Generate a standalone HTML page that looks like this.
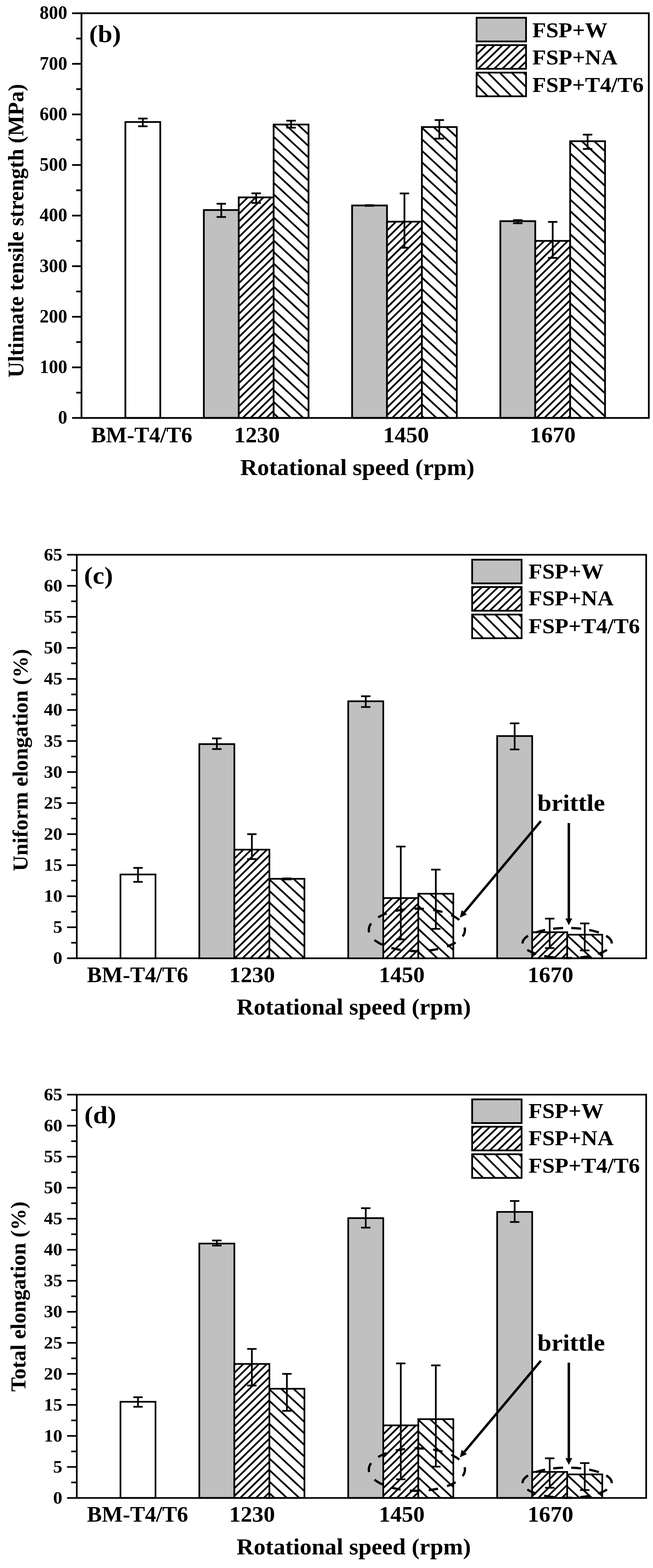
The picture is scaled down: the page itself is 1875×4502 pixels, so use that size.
<!DOCTYPE html>
<html lang="en">
<head>
<meta charset="utf-8">
<title>Tensile properties: ultimate tensile strength, uniform elongation and total elongation vs rotational speed</title>
<style>
html, body { margin: 0; padding: 0; background: #fff; }
body { width: 1875px; height: 4502px; overflow: hidden; font-family: "Liberation Serif", "DejaVu Serif", serif; }
svg { display: block; }
</style>
</head>
<body>
<svg width="1875" height="4502" viewBox="0 0 1875 4502" font-family="'Liberation Serif', 'DejaVu Serif', serif" font-weight="bold" fill="#000">
<defs><clipPath id="c1"><rect x="685.50" y="566.71" width="100.20" height="633.29"/></clipPath><clipPath id="c2"><rect x="785.70" y="357.55" width="100.20" height="842.45"/></clipPath><clipPath id="c3"><rect x="1111.20" y="636.43" width="100.20" height="563.57"/></clipPath><clipPath id="c4"><rect x="1211.40" y="364.81" width="100.20" height="835.19"/></clipPath><clipPath id="c5"><rect x="1536.90" y="691.62" width="100.20" height="508.38"/></clipPath><clipPath id="c6"><rect x="1637.10" y="405.48" width="100.20" height="794.52"/></clipPath><clipPath id="c7"><rect x="1368.50" y="129.50" width="142.00" height="68.00"/></clipPath><clipPath id="c8"><rect x="1368.50" y="208.50" width="142.00" height="68.00"/></clipPath><clipPath id="c9"><rect x="672.90" y="2439.47" width="100.60" height="311.93"/></clipPath><clipPath id="c10"><rect x="773.50" y="2523.24" width="100.60" height="228.16"/></clipPath><clipPath id="c11"><rect x="1100.50" y="2578.50" width="100.60" height="172.90"/></clipPath><clipPath id="c12"><rect x="1201.10" y="2566.02" width="100.60" height="185.38"/></clipPath><clipPath id="c13"><rect x="1528.10" y="2676.54" width="100.60" height="74.86"/></clipPath><clipPath id="c14"><rect x="1628.70" y="2683.67" width="100.60" height="67.73"/></clipPath><clipPath id="c15"><rect x="1355.70" y="1685.50" width="142.00" height="68.00"/></clipPath><clipPath id="c16"><rect x="1355.70" y="1764.50" width="142.00" height="68.00"/></clipPath><clipPath id="c17"><rect x="672.90" y="3916.09" width="100.60" height="384.81"/></clipPath><clipPath id="c18"><rect x="773.50" y="3987.35" width="100.60" height="313.55"/></clipPath><clipPath id="c19"><rect x="1100.50" y="4092.46" width="100.60" height="208.44"/></clipPath><clipPath id="c20"><rect x="1201.10" y="4074.64" width="100.60" height="226.26"/></clipPath><clipPath id="c21"><rect x="1528.10" y="4226.08" width="100.60" height="74.82"/></clipPath><clipPath id="c22"><rect x="1628.70" y="4233.20" width="100.60" height="67.70"/></clipPath><clipPath id="c23"><rect x="1355.70" y="3235.00" width="142.00" height="68.00"/></clipPath><clipPath id="c24"><rect x="1355.70" y="3314.00" width="142.00" height="68.00"/></clipPath></defs>
<rect x="360.00" y="350.29" width="100.20" height="849.71" fill="#fff"/>
<rect x="360.00" y="350.29" width="100.20" height="849.71" fill="none" stroke="#000" stroke-width="5.0"/>
<rect x="585.30" y="603.02" width="100.20" height="596.98" fill="#c0c0c0"/>
<rect x="585.30" y="603.02" width="100.20" height="596.98" fill="none" stroke="#000" stroke-width="5.0"/>
<rect x="685.50" y="566.71" width="100.20" height="633.29" fill="#fff"/>
<path d="M679.50 531.89L791.70 421.93M679.50 553.99L791.70 444.03M679.50 576.09L791.70 466.13M679.50 598.19L791.70 488.23M679.50 620.29L791.70 510.33M679.50 642.39L791.70 532.43M679.50 664.49L791.70 554.53M679.50 686.59L791.70 576.63M679.50 708.69L791.70 598.73M679.50 730.79L791.70 620.83M679.50 752.89L791.70 642.93M679.50 774.99L791.70 665.03M679.50 797.09L791.70 687.13M679.50 819.19L791.70 709.23M679.50 841.29L791.70 731.33M679.50 863.39L791.70 753.43M679.50 885.49L791.70 775.53M679.50 907.59L791.70 797.63M679.50 929.69L791.70 819.73M679.50 951.79L791.70 841.83M679.50 973.89L791.70 863.93M679.50 995.99L791.70 886.03M679.50 1018.09L791.70 908.13M679.50 1040.19L791.70 930.23M679.50 1062.29L791.70 952.33M679.50 1084.39L791.70 974.43M679.50 1106.49L791.70 996.53M679.50 1128.59L791.70 1018.63M679.50 1150.69L791.70 1040.73M679.50 1172.79L791.70 1062.83M679.50 1194.89L791.70 1084.93M679.50 1216.99L791.70 1107.03M679.50 1239.09L791.70 1129.13M679.50 1261.19L791.70 1151.23M679.50 1283.29L791.70 1173.33M679.50 1305.39L791.70 1195.43" stroke="#000" stroke-width="5.0" fill="none" clip-path="url(#c1)"/>
<rect x="685.50" y="566.71" width="100.20" height="633.29" fill="none" stroke="#000" stroke-width="5.0"/>
<rect x="785.70" y="357.55" width="100.20" height="842.45" fill="#fff"/>
<path d="M779.70 221.37L891.90 325.72M779.70 254.47L891.90 358.82M779.70 287.57L891.90 391.92M779.70 320.67L891.90 425.02M779.70 353.77L891.90 458.12M779.70 386.87L891.90 491.22M779.70 419.97L891.90 524.32M779.70 453.07L891.90 557.42M779.70 486.17L891.90 590.52M779.70 519.27L891.90 623.62M779.70 552.37L891.90 656.72M779.70 585.47L891.90 689.82M779.70 618.57L891.90 722.92M779.70 651.67L891.90 756.02M779.70 684.77L891.90 789.12M779.70 717.87L891.90 822.22M779.70 750.97L891.90 855.32M779.70 784.07L891.90 888.42M779.70 817.17L891.90 921.52M779.70 850.27L891.90 954.62M779.70 883.37L891.90 987.72M779.70 916.47L891.90 1020.82M779.70 949.57L891.90 1053.92M779.70 982.67L891.90 1087.02M779.70 1015.77L891.90 1120.12M779.70 1048.87L891.90 1153.22M779.70 1081.97L891.90 1186.32M779.70 1115.07L891.90 1219.42M779.70 1148.17L891.90 1252.52M779.70 1181.27L891.90 1285.62M779.70 1214.37L891.90 1318.72" stroke="#000" stroke-width="5.0" fill="none" clip-path="url(#c2)"/>
<rect x="785.70" y="357.55" width="100.20" height="842.45" fill="none" stroke="#000" stroke-width="5.0"/>
<rect x="1011.00" y="589.95" width="100.20" height="610.05" fill="#c0c0c0"/>
<rect x="1011.00" y="589.95" width="100.20" height="610.05" fill="none" stroke="#000" stroke-width="5.0"/>
<rect x="1111.20" y="636.43" width="100.20" height="563.57" fill="#fff"/>
<path d="M1105.20 601.61L1217.40 491.65M1105.20 623.71L1217.40 513.75M1105.20 645.81L1217.40 535.85M1105.20 667.91L1217.40 557.95M1105.20 690.01L1217.40 580.05M1105.20 712.11L1217.40 602.15M1105.20 734.21L1217.40 624.25M1105.20 756.31L1217.40 646.35M1105.20 778.41L1217.40 668.45M1105.20 800.51L1217.40 690.55M1105.20 822.61L1217.40 712.65M1105.20 844.71L1217.40 734.75M1105.20 866.81L1217.40 756.85M1105.20 888.91L1217.40 778.95M1105.20 911.01L1217.40 801.05M1105.20 933.11L1217.40 823.15M1105.20 955.21L1217.40 845.25M1105.20 977.31L1217.40 867.35M1105.20 999.41L1217.40 889.45M1105.20 1021.51L1217.40 911.55M1105.20 1043.61L1217.40 933.65M1105.20 1065.71L1217.40 955.75M1105.20 1087.81L1217.40 977.85M1105.20 1109.91L1217.40 999.95M1105.20 1132.01L1217.40 1022.05M1105.20 1154.11L1217.40 1044.15M1105.20 1176.21L1217.40 1066.25M1105.20 1198.31L1217.40 1088.35M1105.20 1220.41L1217.40 1110.45M1105.20 1242.51L1217.40 1132.55M1105.20 1264.61L1217.40 1154.65M1105.20 1286.71L1217.40 1176.75M1105.20 1308.81L1217.40 1198.85" stroke="#000" stroke-width="5.0" fill="none" clip-path="url(#c3)"/>
<rect x="1111.20" y="636.43" width="100.20" height="563.57" fill="none" stroke="#000" stroke-width="5.0"/>
<rect x="1211.40" y="364.81" width="100.20" height="835.19" fill="#fff"/>
<path d="M1205.40 228.63L1317.60 332.98M1205.40 261.73L1317.60 366.08M1205.40 294.83L1317.60 399.18M1205.40 327.93L1317.60 432.28M1205.40 361.03L1317.60 465.38M1205.40 394.13L1317.60 498.48M1205.40 427.23L1317.60 531.58M1205.40 460.33L1317.60 564.68M1205.40 493.43L1317.60 597.78M1205.40 526.53L1317.60 630.88M1205.40 559.63L1317.60 663.98M1205.40 592.73L1317.60 697.08M1205.40 625.83L1317.60 730.18M1205.40 658.93L1317.60 763.28M1205.40 692.03L1317.60 796.38M1205.40 725.13L1317.60 829.48M1205.40 758.23L1317.60 862.58M1205.40 791.33L1317.60 895.68M1205.40 824.43L1317.60 928.78M1205.40 857.53L1317.60 961.88M1205.40 890.63L1317.60 994.98M1205.40 923.73L1317.60 1028.08M1205.40 956.83L1317.60 1061.18M1205.40 989.93L1317.60 1094.28M1205.40 1023.03L1317.60 1127.38M1205.40 1056.13L1317.60 1160.48M1205.40 1089.23L1317.60 1193.58M1205.40 1122.33L1317.60 1226.68M1205.40 1155.43L1317.60 1259.78M1205.40 1188.53L1317.60 1292.88M1205.40 1221.63L1317.60 1325.98" stroke="#000" stroke-width="5.0" fill="none" clip-path="url(#c4)"/>
<rect x="1211.40" y="364.81" width="100.20" height="835.19" fill="none" stroke="#000" stroke-width="5.0"/>
<rect x="1436.70" y="634.98" width="100.20" height="565.02" fill="#c0c0c0"/>
<rect x="1436.70" y="634.98" width="100.20" height="565.02" fill="none" stroke="#000" stroke-width="5.0"/>
<rect x="1536.90" y="691.62" width="100.20" height="508.38" fill="#fff"/>
<path d="M1530.90 656.80L1643.10 546.85M1530.90 678.90L1643.10 568.95M1530.90 701.00L1643.10 591.05M1530.90 723.11L1643.10 613.15M1530.90 745.21L1643.10 635.25M1530.90 767.31L1643.10 657.35M1530.90 789.41L1643.10 679.45M1530.90 811.51L1643.10 701.55M1530.90 833.61L1643.10 723.65M1530.90 855.71L1643.10 745.75M1530.90 877.81L1643.10 767.85M1530.90 899.91L1643.10 789.95M1530.90 922.01L1643.10 812.05M1530.90 944.11L1643.10 834.15M1530.90 966.21L1643.10 856.25M1530.90 988.31L1643.10 878.35M1530.90 1010.41L1643.10 900.45M1530.90 1032.51L1643.10 922.55M1530.90 1054.61L1643.10 944.65M1530.90 1076.71L1643.10 966.75M1530.90 1098.81L1643.10 988.85M1530.90 1120.90L1643.10 1010.95M1530.90 1143.00L1643.10 1033.05M1530.90 1165.10L1643.10 1055.15M1530.90 1187.20L1643.10 1077.25M1530.90 1209.30L1643.10 1099.35M1530.90 1231.40L1643.10 1121.45M1530.90 1253.50L1643.10 1143.55M1530.90 1275.60L1643.10 1165.65M1530.90 1297.70L1643.10 1187.75M1530.90 1319.80L1643.10 1209.85" stroke="#000" stroke-width="5.0" fill="none" clip-path="url(#c5)"/>
<rect x="1536.90" y="691.62" width="100.20" height="508.38" fill="none" stroke="#000" stroke-width="5.0"/>
<rect x="1637.10" y="405.48" width="100.20" height="794.52" fill="#fff"/>
<path d="M1631.10 269.30L1743.30 373.65M1631.10 302.40L1743.30 406.75M1631.10 335.50L1743.30 439.85M1631.10 368.60L1743.30 472.95M1631.10 401.70L1743.30 506.05M1631.10 434.80L1743.30 539.15M1631.10 467.90L1743.30 572.25M1631.10 501.00L1743.30 605.35M1631.10 534.10L1743.30 638.45M1631.10 567.20L1743.30 671.55M1631.10 600.30L1743.30 704.65M1631.10 633.40L1743.30 737.75M1631.10 666.50L1743.30 770.85M1631.10 699.60L1743.30 803.95M1631.10 732.70L1743.30 837.05M1631.10 765.80L1743.30 870.15M1631.10 798.90L1743.30 903.25M1631.10 832.00L1743.30 936.35M1631.10 865.10L1743.30 969.45M1631.10 898.20L1743.30 1002.55M1631.10 931.30L1743.30 1035.65M1631.10 964.40L1743.30 1068.75M1631.10 997.50L1743.30 1101.85M1631.10 1030.60L1743.30 1134.95M1631.10 1063.70L1743.30 1168.05M1631.10 1096.80L1743.30 1201.15M1631.10 1129.90L1743.30 1234.25M1631.10 1163.00L1743.30 1267.35M1631.10 1196.10L1743.30 1300.45" stroke="#000" stroke-width="5.0" fill="none" clip-path="url(#c6)"/>
<rect x="1637.10" y="405.48" width="100.20" height="794.52" fill="none" stroke="#000" stroke-width="5.0"/>
<line x1="410.10" y1="340.30" x2="410.10" y2="362.60" stroke="#000" stroke-width="5.0" />
<line x1="396.60" y1="340.30" x2="423.60" y2="340.30" stroke="#000" stroke-width="5.0" />
<line x1="396.60" y1="362.60" x2="423.60" y2="362.60" stroke="#000" stroke-width="5.0" />
<line x1="635.40" y1="585.00" x2="635.40" y2="623.00" stroke="#000" stroke-width="5.0" />
<line x1="621.90" y1="585.00" x2="648.90" y2="585.00" stroke="#000" stroke-width="5.0" />
<line x1="621.90" y1="623.00" x2="648.90" y2="623.00" stroke="#000" stroke-width="5.0" />
<line x1="735.60" y1="555.10" x2="735.60" y2="582.60" stroke="#000" stroke-width="5.0" />
<line x1="722.10" y1="555.10" x2="749.10" y2="555.10" stroke="#000" stroke-width="5.0" />
<line x1="722.10" y1="582.60" x2="749.10" y2="582.60" stroke="#000" stroke-width="5.0" />
<line x1="835.80" y1="346.50" x2="835.80" y2="366.60" stroke="#000" stroke-width="5.0" />
<line x1="822.30" y1="346.50" x2="849.30" y2="346.50" stroke="#000" stroke-width="5.0" />
<line x1="822.30" y1="366.60" x2="849.30" y2="366.60" stroke="#000" stroke-width="5.0" />
<line x1="1061.10" y1="589.00" x2="1061.10" y2="591.00" stroke="#000" stroke-width="5.0" />
<line x1="1047.60" y1="589.00" x2="1074.60" y2="589.00" stroke="#000" stroke-width="5.0" />
<line x1="1047.60" y1="591.00" x2="1074.60" y2="591.00" stroke="#000" stroke-width="5.0" />
<line x1="1161.30" y1="555.40" x2="1161.30" y2="711.30" stroke="#000" stroke-width="5.0" />
<line x1="1147.80" y1="555.40" x2="1174.80" y2="555.40" stroke="#000" stroke-width="5.0" />
<line x1="1147.80" y1="711.30" x2="1174.80" y2="711.30" stroke="#000" stroke-width="5.0" />
<line x1="1261.50" y1="344.70" x2="1261.50" y2="398.00" stroke="#000" stroke-width="5.0" />
<line x1="1248.00" y1="344.70" x2="1275.00" y2="344.70" stroke="#000" stroke-width="5.0" />
<line x1="1248.00" y1="398.00" x2="1275.00" y2="398.00" stroke="#000" stroke-width="5.0" />
<line x1="1486.80" y1="632.00" x2="1486.80" y2="641.00" stroke="#000" stroke-width="5.0" />
<line x1="1473.30" y1="632.00" x2="1500.30" y2="632.00" stroke="#000" stroke-width="5.0" />
<line x1="1473.30" y1="641.00" x2="1500.30" y2="641.00" stroke="#000" stroke-width="5.0" />
<line x1="1587.00" y1="637.10" x2="1587.00" y2="740.50" stroke="#000" stroke-width="5.0" />
<line x1="1573.50" y1="637.10" x2="1600.50" y2="637.10" stroke="#000" stroke-width="5.0" />
<line x1="1573.50" y1="740.50" x2="1600.50" y2="740.50" stroke="#000" stroke-width="5.0" />
<line x1="1687.20" y1="386.60" x2="1687.20" y2="427.60" stroke="#000" stroke-width="5.0" />
<line x1="1673.70" y1="386.60" x2="1700.70" y2="386.60" stroke="#000" stroke-width="5.0" />
<line x1="1673.70" y1="427.60" x2="1700.70" y2="427.60" stroke="#000" stroke-width="5.0" />
<rect x="234.00" y="38.00" width="1629.00" height="1162.00" fill="none" stroke="#000" stroke-width="5.0"/>
<line x1="207.00" y1="1200.00" x2="234.00" y2="1200.00" stroke="#000" stroke-width="5" />
<text transform="translate(193.20,1216.40) scale(0.98,1)" font-size="54" text-anchor="end" >0</text>
<line x1="219.00" y1="1127.38" x2="234.00" y2="1127.38" stroke="#000" stroke-width="5" />
<line x1="207.00" y1="1054.75" x2="234.00" y2="1054.75" stroke="#000" stroke-width="5" />
<text transform="translate(193.20,1071.15) scale(0.98,1)" font-size="54" text-anchor="end" >100</text>
<line x1="219.00" y1="982.12" x2="234.00" y2="982.12" stroke="#000" stroke-width="5" />
<line x1="207.00" y1="909.50" x2="234.00" y2="909.50" stroke="#000" stroke-width="5" />
<text transform="translate(193.20,925.90) scale(0.98,1)" font-size="54" text-anchor="end" >200</text>
<line x1="219.00" y1="836.88" x2="234.00" y2="836.88" stroke="#000" stroke-width="5" />
<line x1="207.00" y1="764.25" x2="234.00" y2="764.25" stroke="#000" stroke-width="5" />
<text transform="translate(193.20,780.65) scale(0.98,1)" font-size="54" text-anchor="end" >300</text>
<line x1="219.00" y1="691.62" x2="234.00" y2="691.62" stroke="#000" stroke-width="5" />
<line x1="207.00" y1="619.00" x2="234.00" y2="619.00" stroke="#000" stroke-width="5" />
<text transform="translate(193.20,635.40) scale(0.98,1)" font-size="54" text-anchor="end" >400</text>
<line x1="219.00" y1="546.38" x2="234.00" y2="546.38" stroke="#000" stroke-width="5" />
<line x1="207.00" y1="473.75" x2="234.00" y2="473.75" stroke="#000" stroke-width="5" />
<text transform="translate(193.20,490.15) scale(0.98,1)" font-size="54" text-anchor="end" >500</text>
<line x1="219.00" y1="401.12" x2="234.00" y2="401.12" stroke="#000" stroke-width="5" />
<line x1="207.00" y1="328.50" x2="234.00" y2="328.50" stroke="#000" stroke-width="5" />
<text transform="translate(193.20,344.90) scale(0.98,1)" font-size="54" text-anchor="end" >600</text>
<line x1="219.00" y1="255.88" x2="234.00" y2="255.88" stroke="#000" stroke-width="5" />
<line x1="207.00" y1="183.25" x2="234.00" y2="183.25" stroke="#000" stroke-width="5" />
<text transform="translate(193.20,199.65) scale(0.98,1)" font-size="54" text-anchor="end" >700</text>
<line x1="219.00" y1="110.62" x2="234.00" y2="110.62" stroke="#000" stroke-width="5" />
<line x1="207.00" y1="38.00" x2="234.00" y2="38.00" stroke="#000" stroke-width="5" />
<text transform="translate(193.20,54.40) scale(0.98,1)" font-size="54" text-anchor="end" >800</text>
<text transform="translate(407.00,1269.70) scale(1.012,1)" font-size="63" text-anchor="middle" >BM-T4/T6</text>
<text transform="translate(737.80,1269.70) scale(1.045,1)" font-size="63" text-anchor="middle" >1230</text>
<text transform="translate(1165.90,1269.70) scale(1.045,1)" font-size="63" text-anchor="middle" >1450</text>
<text transform="translate(1587.10,1269.70) scale(1.045,1)" font-size="63" text-anchor="middle" >1670</text>
<text transform="translate(1026.00,1363.50) scale(1.039,1)" font-size="65.5" text-anchor="middle" >Rotational speed (rpm)</text>
<text transform="translate(67.00,662.50) rotate(-90)" font-size="62.7" text-anchor="middle">Ultimate tensile strength (MPa)</text>
<text transform="translate(256.00,121.00) scale(1.07,1)" font-size="70" text-anchor="start" >(b)</text>
<rect x="1368.50" y="51.00" width="142.00" height="68.00" fill="#c0c0c0"/>
<rect x="1368.50" y="51.00" width="142.00" height="68.00" fill="none" stroke="#000" stroke-width="5"/>
<text transform="translate(1528.50,106.80) scale(1.04,1)" font-size="62" text-anchor="start" >FSP+W</text>
<rect x="1368.50" y="129.50" width="142.00" height="68.00" fill="#fff"/>
<path d="M1362.50 95.66L1516.50 -52.18M1362.50 117.96L1516.50 -29.88M1362.50 140.26L1516.50 -7.58M1362.50 162.56L1516.50 14.72M1362.50 184.86L1516.50 37.02M1362.50 207.16L1516.50 59.32M1362.50 229.46L1516.50 81.62M1362.50 251.76L1516.50 103.92M1362.50 274.06L1516.50 126.22M1362.50 296.36L1516.50 148.52M1362.50 318.66L1516.50 170.82M1362.50 340.96L1516.50 193.12" stroke="#000" stroke-width="5.0" fill="none" clip-path="url(#c7)"/>
<rect x="1368.50" y="129.50" width="142.00" height="68.00" fill="none" stroke="#000" stroke-width="5"/>
<text transform="translate(1528.50,184.60) scale(1.04,1)" font-size="62" text-anchor="start" >FSP+NA</text>
<rect x="1368.50" y="208.50" width="142.00" height="68.00" fill="#fff"/>
<path d="M1362.50 -0.70L1516.50 153.30M1362.50 33.50L1516.50 187.50M1362.50 67.70L1516.50 221.70M1362.50 101.90L1516.50 255.90M1362.50 136.10L1516.50 290.10M1362.50 170.30L1516.50 324.30M1362.50 204.50L1516.50 358.50M1362.50 238.70L1516.50 392.70M1362.50 272.90L1516.50 426.90" stroke="#000" stroke-width="5.0" fill="none" clip-path="url(#c8)"/>
<rect x="1368.50" y="208.50" width="142.00" height="68.00" fill="none" stroke="#000" stroke-width="5"/>
<text transform="translate(1528.50,264.30) scale(1.04,1)" font-size="62" text-anchor="start" >FSP+T4/T6</text>
<rect x="345.90" y="2510.77" width="100.60" height="240.63" fill="#fff"/>
<rect x="345.90" y="2510.77" width="100.60" height="240.63" fill="none" stroke="#000" stroke-width="4.8"/>
<rect x="572.30" y="2136.45" width="100.60" height="614.95" fill="#c0c0c0"/>
<rect x="572.30" y="2136.45" width="100.60" height="614.95" fill="none" stroke="#000" stroke-width="4.8"/>
<rect x="672.90" y="2439.47" width="100.60" height="311.93" fill="#fff"/>
<path d="M666.90 2404.65L779.50 2294.30M666.90 2426.75L779.50 2316.40M666.90 2448.85L779.50 2338.50M666.90 2470.95L779.50 2360.60M666.90 2493.05L779.50 2382.70M666.90 2515.15L779.50 2404.80M666.90 2537.25L779.50 2426.90M666.90 2559.35L779.50 2449.00M666.90 2581.45L779.50 2471.10M666.90 2603.55L779.50 2493.20M666.90 2625.65L779.50 2515.30M666.90 2647.75L779.50 2537.40M666.90 2669.85L779.50 2559.50M666.90 2691.95L779.50 2581.60M666.90 2714.05L779.50 2603.70M666.90 2736.15L779.50 2625.80M666.90 2758.25L779.50 2647.90M666.90 2780.35L779.50 2670.00M666.90 2802.45L779.50 2692.10M666.90 2824.55L779.50 2714.20M666.90 2846.65L779.50 2736.30M666.90 2868.75L779.50 2758.40" stroke="#000" stroke-width="5.0" fill="none" clip-path="url(#c9)"/>
<rect x="672.90" y="2439.47" width="100.60" height="311.93" fill="none" stroke="#000" stroke-width="4.8"/>
<rect x="773.50" y="2523.24" width="100.60" height="228.16" fill="#fff"/>
<path d="M767.50 2387.06L880.10 2491.78M767.50 2420.16L880.10 2524.88M767.50 2453.26L880.10 2557.98M767.50 2486.36L880.10 2591.08M767.50 2519.46L880.10 2624.18M767.50 2552.56L880.10 2657.28M767.50 2585.66L880.10 2690.38M767.50 2618.76L880.10 2723.48M767.50 2651.86L880.10 2756.58M767.50 2684.96L880.10 2789.68M767.50 2718.06L880.10 2822.78M767.50 2751.16L880.10 2855.88" stroke="#000" stroke-width="5.0" fill="none" clip-path="url(#c10)"/>
<rect x="773.50" y="2523.24" width="100.60" height="228.16" fill="none" stroke="#000" stroke-width="4.8"/>
<rect x="999.90" y="2013.46" width="100.60" height="737.94" fill="#c0c0c0"/>
<rect x="999.90" y="2013.46" width="100.60" height="737.94" fill="none" stroke="#000" stroke-width="4.8"/>
<rect x="1100.50" y="2578.50" width="100.60" height="172.90" fill="#fff"/>
<path d="M1094.50 2543.68L1207.10 2433.33M1094.50 2565.78L1207.10 2455.43M1094.50 2587.88L1207.10 2477.53M1094.50 2609.98L1207.10 2499.63M1094.50 2632.08L1207.10 2521.73M1094.50 2654.18L1207.10 2543.83M1094.50 2676.28L1207.10 2565.93M1094.50 2698.38L1207.10 2588.03M1094.50 2720.48L1207.10 2610.13M1094.50 2742.58L1207.10 2632.23M1094.50 2764.68L1207.10 2654.33M1094.50 2786.78L1207.10 2676.43M1094.50 2808.88L1207.10 2698.53M1094.50 2830.98L1207.10 2720.63M1094.50 2853.08L1207.10 2742.73M1094.50 2875.18L1207.10 2764.83" stroke="#000" stroke-width="5.0" fill="none" clip-path="url(#c11)"/>
<rect x="1100.50" y="2578.50" width="100.60" height="172.90" fill="none" stroke="#000" stroke-width="4.8"/>
<rect x="1201.10" y="2566.02" width="100.60" height="185.38" fill="#fff"/>
<path d="M1195.10 2429.84L1307.70 2534.56M1195.10 2462.94L1307.70 2567.66M1195.10 2496.04L1307.70 2600.76M1195.10 2529.14L1307.70 2633.86M1195.10 2562.24L1307.70 2666.96M1195.10 2595.34L1307.70 2700.06M1195.10 2628.44L1307.70 2733.16M1195.10 2661.54L1307.70 2766.26M1195.10 2694.64L1307.70 2799.36M1195.10 2727.74L1307.70 2832.46M1195.10 2760.84L1307.70 2865.56" stroke="#000" stroke-width="5.0" fill="none" clip-path="url(#c12)"/>
<rect x="1201.10" y="2566.02" width="100.60" height="185.38" fill="none" stroke="#000" stroke-width="4.8"/>
<rect x="1427.50" y="2113.28" width="100.60" height="638.12" fill="#c0c0c0"/>
<rect x="1427.50" y="2113.28" width="100.60" height="638.12" fill="none" stroke="#000" stroke-width="4.8"/>
<rect x="1528.10" y="2676.54" width="100.60" height="74.86" fill="#fff"/>
<path d="M1522.10 2641.72L1634.70 2531.37M1522.10 2663.82L1634.70 2553.47M1522.10 2685.92L1634.70 2575.57M1522.10 2708.02L1634.70 2597.67M1522.10 2730.12L1634.70 2619.77M1522.10 2752.22L1634.70 2641.87M1522.10 2774.32L1634.70 2663.97M1522.10 2796.42L1634.70 2686.07M1522.10 2818.52L1634.70 2708.17M1522.10 2840.62L1634.70 2730.27M1522.10 2862.72L1634.70 2752.37" stroke="#000" stroke-width="5.0" fill="none" clip-path="url(#c13)"/>
<rect x="1528.10" y="2676.54" width="100.60" height="74.86" fill="none" stroke="#000" stroke-width="4.8"/>
<rect x="1628.70" y="2683.67" width="100.60" height="67.73" fill="#fff"/>
<path d="M1622.70 2547.49L1735.30 2652.20M1622.70 2580.59L1735.30 2685.30M1622.70 2613.69L1735.30 2718.40M1622.70 2646.79L1735.30 2751.50M1622.70 2679.89L1735.30 2784.60M1622.70 2712.99L1735.30 2817.70M1622.70 2746.09L1735.30 2850.80" stroke="#000" stroke-width="5.0" fill="none" clip-path="url(#c14)"/>
<rect x="1628.70" y="2683.67" width="100.60" height="67.73" fill="none" stroke="#000" stroke-width="4.8"/>
<line x1="396.20" y1="2491.80" x2="396.20" y2="2532.00" stroke="#000" stroke-width="4.9" />
<line x1="382.70" y1="2491.80" x2="409.70" y2="2491.80" stroke="#000" stroke-width="4.9" />
<line x1="382.70" y1="2532.00" x2="409.70" y2="2532.00" stroke="#000" stroke-width="4.9" />
<line x1="622.60" y1="2120.00" x2="622.60" y2="2150.70" stroke="#000" stroke-width="4.9" />
<line x1="609.10" y1="2120.00" x2="636.10" y2="2120.00" stroke="#000" stroke-width="4.9" />
<line x1="609.10" y1="2150.70" x2="636.10" y2="2150.70" stroke="#000" stroke-width="4.9" />
<line x1="723.20" y1="2395.00" x2="723.20" y2="2466.60" stroke="#000" stroke-width="4.9" />
<line x1="709.70" y1="2395.00" x2="736.70" y2="2395.00" stroke="#000" stroke-width="4.9" />
<line x1="709.70" y1="2466.60" x2="736.70" y2="2466.60" stroke="#000" stroke-width="4.9" />
<line x1="823.80" y1="2522.00" x2="823.80" y2="2525.00" stroke="#000" stroke-width="4.9" />
<line x1="810.30" y1="2522.00" x2="837.30" y2="2522.00" stroke="#000" stroke-width="4.9" />
<line x1="810.30" y1="2525.00" x2="837.30" y2="2525.00" stroke="#000" stroke-width="4.9" />
<line x1="1050.20" y1="1999.00" x2="1050.20" y2="2030.00" stroke="#000" stroke-width="4.9" />
<line x1="1036.70" y1="1999.00" x2="1063.70" y2="1999.00" stroke="#000" stroke-width="4.9" />
<line x1="1036.70" y1="2030.00" x2="1063.70" y2="2030.00" stroke="#000" stroke-width="4.9" />
<line x1="1150.80" y1="2430.60" x2="1150.80" y2="2697.20" stroke="#000" stroke-width="4.9" />
<line x1="1137.30" y1="2430.60" x2="1164.30" y2="2430.60" stroke="#000" stroke-width="4.9" />
<line x1="1137.30" y1="2697.20" x2="1164.30" y2="2697.20" stroke="#000" stroke-width="4.9" />
<line x1="1251.40" y1="2496.80" x2="1251.40" y2="2667.00" stroke="#000" stroke-width="4.9" />
<line x1="1237.90" y1="2496.80" x2="1264.90" y2="2496.80" stroke="#000" stroke-width="4.9" />
<line x1="1237.90" y1="2667.00" x2="1264.90" y2="2667.00" stroke="#000" stroke-width="4.9" />
<line x1="1477.80" y1="2076.80" x2="1477.80" y2="2151.80" stroke="#000" stroke-width="4.9" />
<line x1="1464.30" y1="2076.80" x2="1491.30" y2="2076.80" stroke="#000" stroke-width="4.9" />
<line x1="1464.30" y1="2151.80" x2="1491.30" y2="2151.80" stroke="#000" stroke-width="4.9" />
<line x1="1578.40" y1="2637.50" x2="1578.40" y2="2722.10" stroke="#000" stroke-width="4.9" />
<line x1="1564.90" y1="2637.50" x2="1591.90" y2="2637.50" stroke="#000" stroke-width="4.9" />
<line x1="1564.90" y1="2722.10" x2="1591.90" y2="2722.10" stroke="#000" stroke-width="4.9" />
<line x1="1679.00" y1="2651.30" x2="1679.00" y2="2728.80" stroke="#000" stroke-width="4.9" />
<line x1="1665.50" y1="2651.30" x2="1692.50" y2="2651.30" stroke="#000" stroke-width="4.9" />
<line x1="1665.50" y1="2728.80" x2="1692.50" y2="2728.80" stroke="#000" stroke-width="4.9" />
<rect x="220.50" y="1592.80" width="1634.90" height="1158.60" fill="none" stroke="#000" stroke-width="4.7"/>
<line x1="192.50" y1="2751.40" x2="220.50" y2="2751.40" stroke="#000" stroke-width="4.7" />
<text transform="translate(179.00,2767.40) scale(1.04,1)" font-size="51" text-anchor="end" >0</text>
<line x1="204.50" y1="2706.84" x2="220.50" y2="2706.84" stroke="#000" stroke-width="4.7" />
<line x1="192.50" y1="2662.28" x2="220.50" y2="2662.28" stroke="#000" stroke-width="4.7" />
<text transform="translate(179.00,2678.28) scale(1.04,1)" font-size="51" text-anchor="end" >5</text>
<line x1="204.50" y1="2617.72" x2="220.50" y2="2617.72" stroke="#000" stroke-width="4.7" />
<line x1="192.50" y1="2573.15" x2="220.50" y2="2573.15" stroke="#000" stroke-width="4.7" />
<text transform="translate(179.00,2589.15) scale(1.04,1)" font-size="51" text-anchor="end" >10</text>
<line x1="204.50" y1="2528.59" x2="220.50" y2="2528.59" stroke="#000" stroke-width="4.7" />
<line x1="192.50" y1="2484.03" x2="220.50" y2="2484.03" stroke="#000" stroke-width="4.7" />
<text transform="translate(179.00,2500.03) scale(1.04,1)" font-size="51" text-anchor="end" >15</text>
<line x1="204.50" y1="2439.47" x2="220.50" y2="2439.47" stroke="#000" stroke-width="4.7" />
<line x1="192.50" y1="2394.91" x2="220.50" y2="2394.91" stroke="#000" stroke-width="4.7" />
<text transform="translate(179.00,2410.91) scale(1.04,1)" font-size="51" text-anchor="end" >20</text>
<line x1="204.50" y1="2350.35" x2="220.50" y2="2350.35" stroke="#000" stroke-width="4.7" />
<line x1="192.50" y1="2305.78" x2="220.50" y2="2305.78" stroke="#000" stroke-width="4.7" />
<text transform="translate(179.00,2321.78) scale(1.04,1)" font-size="51" text-anchor="end" >25</text>
<line x1="204.50" y1="2261.22" x2="220.50" y2="2261.22" stroke="#000" stroke-width="4.7" />
<line x1="192.50" y1="2216.66" x2="220.50" y2="2216.66" stroke="#000" stroke-width="4.7" />
<text transform="translate(179.00,2232.66) scale(1.04,1)" font-size="51" text-anchor="end" >30</text>
<line x1="204.50" y1="2172.10" x2="220.50" y2="2172.10" stroke="#000" stroke-width="4.7" />
<line x1="192.50" y1="2127.54" x2="220.50" y2="2127.54" stroke="#000" stroke-width="4.7" />
<text transform="translate(179.00,2143.54) scale(1.04,1)" font-size="51" text-anchor="end" >35</text>
<line x1="204.50" y1="2082.98" x2="220.50" y2="2082.98" stroke="#000" stroke-width="4.7" />
<line x1="192.50" y1="2038.42" x2="220.50" y2="2038.42" stroke="#000" stroke-width="4.7" />
<text transform="translate(179.00,2054.42) scale(1.04,1)" font-size="51" text-anchor="end" >40</text>
<line x1="204.50" y1="1993.85" x2="220.50" y2="1993.85" stroke="#000" stroke-width="4.7" />
<line x1="192.50" y1="1949.29" x2="220.50" y2="1949.29" stroke="#000" stroke-width="4.7" />
<text transform="translate(179.00,1965.29) scale(1.04,1)" font-size="51" text-anchor="end" >45</text>
<line x1="204.50" y1="1904.73" x2="220.50" y2="1904.73" stroke="#000" stroke-width="4.7" />
<line x1="192.50" y1="1860.17" x2="220.50" y2="1860.17" stroke="#000" stroke-width="4.7" />
<text transform="translate(179.00,1876.17) scale(1.04,1)" font-size="51" text-anchor="end" >50</text>
<line x1="204.50" y1="1815.61" x2="220.50" y2="1815.61" stroke="#000" stroke-width="4.7" />
<line x1="192.50" y1="1771.05" x2="220.50" y2="1771.05" stroke="#000" stroke-width="4.7" />
<text transform="translate(179.00,1787.05) scale(1.04,1)" font-size="51" text-anchor="end" >55</text>
<line x1="204.50" y1="1726.48" x2="220.50" y2="1726.48" stroke="#000" stroke-width="4.7" />
<line x1="192.50" y1="1681.92" x2="220.50" y2="1681.92" stroke="#000" stroke-width="4.7" />
<text transform="translate(179.00,1697.92) scale(1.04,1)" font-size="51" text-anchor="end" >60</text>
<line x1="204.50" y1="1637.36" x2="220.50" y2="1637.36" stroke="#000" stroke-width="4.7" />
<line x1="192.50" y1="1592.80" x2="220.50" y2="1592.80" stroke="#000" stroke-width="4.7" />
<text transform="translate(179.00,1608.80) scale(1.04,1)" font-size="51" text-anchor="end" >65</text>
<text transform="translate(395.00,2819.80) scale(1.012,1)" font-size="63" text-anchor="middle" >BM-T4/T6</text>
<text transform="translate(723.80,2819.80) scale(1.045,1)" font-size="63" text-anchor="middle" >1230</text>
<text transform="translate(1153.60,2819.80) scale(1.045,1)" font-size="63" text-anchor="middle" >1450</text>
<text transform="translate(1580.50,2819.80) scale(1.045,1)" font-size="63" text-anchor="middle" >1670</text>
<text transform="translate(1015.70,2913.00) scale(1.039,1)" font-size="65.5" text-anchor="middle" >Rotational speed (rpm)</text>
<text transform="translate(78.60,2182.30) rotate(-90)" font-size="62.1" text-anchor="middle">Uniform elongation (%)</text>
<text transform="translate(241.20,1675.50) scale(1.07,1)" font-size="70" text-anchor="start" >(c)</text>
<rect x="1355.70" y="1607.00" width="142.00" height="68.00" fill="#c0c0c0"/>
<rect x="1355.70" y="1607.00" width="142.00" height="68.00" fill="none" stroke="#000" stroke-width="5"/>
<text transform="translate(1517.50,1660.50) scale(1.04,1)" font-size="62" text-anchor="start" >FSP+W</text>
<rect x="1355.70" y="1685.50" width="142.00" height="68.00" fill="#fff"/>
<path d="M1349.70 1651.66L1503.70 1503.82M1349.70 1673.96L1503.70 1526.12M1349.70 1696.26L1503.70 1548.42M1349.70 1718.56L1503.70 1570.72M1349.70 1740.86L1503.70 1593.02M1349.70 1763.16L1503.70 1615.32M1349.70 1785.46L1503.70 1637.62M1349.70 1807.76L1503.70 1659.92M1349.70 1830.06L1503.70 1682.22M1349.70 1852.36L1503.70 1704.52M1349.70 1874.66L1503.70 1726.82M1349.70 1896.96L1503.70 1749.12" stroke="#000" stroke-width="5.0" fill="none" clip-path="url(#c15)"/>
<rect x="1355.70" y="1685.50" width="142.00" height="68.00" fill="none" stroke="#000" stroke-width="5"/>
<text transform="translate(1517.50,1738.00) scale(1.04,1)" font-size="62" text-anchor="start" >FSP+NA</text>
<rect x="1355.70" y="1764.50" width="142.00" height="68.00" fill="#fff"/>
<path d="M1349.70 1555.30L1503.70 1709.30M1349.70 1589.50L1503.70 1743.50M1349.70 1623.70L1503.70 1777.70M1349.70 1657.90L1503.70 1811.90M1349.70 1692.10L1503.70 1846.10M1349.70 1726.30L1503.70 1880.30M1349.70 1760.50L1503.70 1914.50M1349.70 1794.70L1503.70 1948.70M1349.70 1828.90L1503.70 1982.90" stroke="#000" stroke-width="5.0" fill="none" clip-path="url(#c16)"/>
<rect x="1355.70" y="1764.50" width="142.00" height="68.00" fill="none" stroke="#000" stroke-width="5"/>
<text transform="translate(1517.50,1817.50) scale(1.04,1)" font-size="62" text-anchor="start" >FSP+T4/T6</text>
<path d="M1334.10 2663.05A138 61 0 0 1 1328.46 2688.55M1308.17 2706.14A138 61 0 0 1 1283.67 2717.47M1257.67 2724.79A138 61 0 0 1 1230.99 2729.12M1204.03 2730.92A138 61 0 0 1 1177.01 2730.36M1150.15 2727.38A138 61 0 0 1 1123.74 2721.69M1098.29 2712.63A138 61 0 0 1 1075.22 2698.69M1059.90 2676.95A138 61 0 0 1 1065.54 2651.45M1085.83 2633.86A138 61 0 0 1 1110.33 2622.53M1136.33 2615.21A138 61 0 0 1 1163.01 2610.88M1189.97 2609.08A138 61 0 0 1 1216.99 2609.64M1243.85 2612.62A138 61 0 0 1 1270.26 2618.31M1295.71 2627.37A138 61 0 0 1 1318.78 2641.31" fill="none" stroke="#000" stroke-width="6.5"/>
<path d="M1640.19 2664.58A128 43.3 0 0 1 1668.69 2666.59M1691.81 2670.07A128 43.3 0 0 1 1719.45 2677.23M1740.71 2686.86A128 43.3 0 0 1 1756.44 2709.00M1742.89 2727.13A128 43.3 0 0 1 1716.99 2738.99M1694.36 2744.83A128 43.3 0 0 1 1666.11 2749.09M1642.79 2750.73A128 43.3 0 0 1 1614.21 2750.73M1590.89 2749.09A128 43.3 0 0 1 1562.64 2744.83M1540.01 2738.99A128 43.3 0 0 1 1514.11 2727.13M1500.56 2709.00A128 43.3 0 0 1 1516.29 2686.86M1537.55 2677.23A128 43.3 0 0 1 1565.19 2670.07M1588.31 2666.59A128 43.3 0 0 1 1616.81 2664.58" fill="none" stroke="#000" stroke-width="6.5"/>
<line x1="1553.00" y1="2357.60" x2="1330.59" y2="2622.45" stroke="#000" stroke-width="7" />
<polygon points="1320.30,2634.70 1325.70,2613.11 1340.63,2625.65" fill="#000"/>
<line x1="1633.30" y1="2363.00" x2="1633.30" y2="2640.90" stroke="#000" stroke-width="7" />
<polygon points="1633.30,2656.50 1623.55,2637.00 1643.05,2637.00" fill="#000"/>
<text transform="translate(1640.00,2328.00) scale(1.07,1)" font-size="68" text-anchor="middle" >brittle</text>
<rect x="345.90" y="4024.76" width="100.60" height="276.14" fill="#fff"/>
<rect x="345.90" y="4024.76" width="100.60" height="276.14" fill="none" stroke="#000" stroke-width="4.8"/>
<rect x="572.30" y="3570.47" width="100.60" height="730.43" fill="#c0c0c0"/>
<rect x="572.30" y="3570.47" width="100.60" height="730.43" fill="none" stroke="#000" stroke-width="4.8"/>
<rect x="672.90" y="3916.09" width="100.60" height="384.81" fill="#fff"/>
<path d="M666.90 3881.27L779.50 3770.92M666.90 3903.37L779.50 3793.02M666.90 3925.47L779.50 3815.12M666.90 3947.57L779.50 3837.22M666.90 3969.67L779.50 3859.32M666.90 3991.77L779.50 3881.42M666.90 4013.87L779.50 3903.52M666.90 4035.97L779.50 3925.62M666.90 4058.07L779.50 3947.72M666.90 4080.17L779.50 3969.82M666.90 4102.27L779.50 3991.92M666.90 4124.37L779.50 4014.02M666.90 4146.47L779.50 4036.12M666.90 4168.57L779.50 4058.22M666.90 4190.67L779.50 4080.32M666.90 4212.77L779.50 4102.42M666.90 4234.87L779.50 4124.52M666.90 4256.97L779.50 4146.62M666.90 4279.07L779.50 4168.72M666.90 4301.17L779.50 4190.82M666.90 4323.27L779.50 4212.92M666.90 4345.37L779.50 4235.02M666.90 4367.47L779.50 4257.12M666.90 4389.57L779.50 4279.22M666.90 4411.67L779.50 4301.32" stroke="#000" stroke-width="5.0" fill="none" clip-path="url(#c17)"/>
<rect x="672.90" y="3916.09" width="100.60" height="384.81" fill="none" stroke="#000" stroke-width="4.8"/>
<rect x="773.50" y="3987.35" width="100.60" height="313.55" fill="#fff"/>
<path d="M767.50 3851.17L880.10 3955.89M767.50 3884.27L880.10 3988.99M767.50 3917.37L880.10 4022.09M767.50 3950.47L880.10 4055.19M767.50 3983.57L880.10 4088.29M767.50 4016.67L880.10 4121.39M767.50 4049.77L880.10 4154.49M767.50 4082.87L880.10 4187.59M767.50 4115.97L880.10 4220.69M767.50 4149.07L880.10 4253.79M767.50 4182.17L880.10 4286.89M767.50 4215.27L880.10 4319.99M767.50 4248.37L880.10 4353.09M767.50 4281.47L880.10 4386.19M767.50 4314.57L880.10 4419.29" stroke="#000" stroke-width="5.0" fill="none" clip-path="url(#c18)"/>
<rect x="773.50" y="3987.35" width="100.60" height="313.55" fill="none" stroke="#000" stroke-width="4.8"/>
<rect x="999.90" y="3497.43" width="100.60" height="803.47" fill="#c0c0c0"/>
<rect x="999.90" y="3497.43" width="100.60" height="803.47" fill="none" stroke="#000" stroke-width="4.8"/>
<rect x="1100.50" y="4092.46" width="100.60" height="208.44" fill="#fff"/>
<path d="M1094.50 4057.64L1207.10 3947.29M1094.50 4079.74L1207.10 3969.39M1094.50 4101.84L1207.10 3991.49M1094.50 4123.94L1207.10 4013.59M1094.50 4146.04L1207.10 4035.69M1094.50 4168.14L1207.10 4057.79M1094.50 4190.24L1207.10 4079.89M1094.50 4212.34L1207.10 4101.99M1094.50 4234.44L1207.10 4124.09M1094.50 4256.54L1207.10 4146.19M1094.50 4278.64L1207.10 4168.29M1094.50 4300.74L1207.10 4190.39M1094.50 4322.84L1207.10 4212.49M1094.50 4344.94L1207.10 4234.59M1094.50 4367.04L1207.10 4256.69M1094.50 4389.14L1207.10 4278.79M1094.50 4411.24L1207.10 4300.89" stroke="#000" stroke-width="5.0" fill="none" clip-path="url(#c19)"/>
<rect x="1100.50" y="4092.46" width="100.60" height="208.44" fill="none" stroke="#000" stroke-width="4.8"/>
<rect x="1201.10" y="4074.64" width="100.60" height="226.26" fill="#fff"/>
<path d="M1195.10 3938.46L1307.70 4043.18M1195.10 3971.56L1307.70 4076.28M1195.10 4004.66L1307.70 4109.38M1195.10 4037.76L1307.70 4142.48M1195.10 4070.86L1307.70 4175.58M1195.10 4103.96L1307.70 4208.68M1195.10 4137.06L1307.70 4241.78M1195.10 4170.16L1307.70 4274.88M1195.10 4203.26L1307.70 4307.98M1195.10 4236.36L1307.70 4341.08M1195.10 4269.46L1307.70 4374.18M1195.10 4302.56L1307.70 4407.28" stroke="#000" stroke-width="5.0" fill="none" clip-path="url(#c20)"/>
<rect x="1201.10" y="4074.64" width="100.60" height="226.26" fill="none" stroke="#000" stroke-width="4.8"/>
<rect x="1427.50" y="3479.61" width="100.60" height="821.29" fill="#c0c0c0"/>
<rect x="1427.50" y="3479.61" width="100.60" height="821.29" fill="none" stroke="#000" stroke-width="4.8"/>
<rect x="1528.10" y="4226.08" width="100.60" height="74.82" fill="#fff"/>
<path d="M1522.10 4191.26L1634.70 4080.91M1522.10 4213.36L1634.70 4103.01M1522.10 4235.46L1634.70 4125.11M1522.10 4257.56L1634.70 4147.21M1522.10 4279.66L1634.70 4169.31M1522.10 4301.76L1634.70 4191.41M1522.10 4323.86L1634.70 4213.51M1522.10 4345.96L1634.70 4235.61M1522.10 4368.06L1634.70 4257.71M1522.10 4390.16L1634.70 4279.81M1522.10 4412.26L1634.70 4301.91" stroke="#000" stroke-width="5.0" fill="none" clip-path="url(#c21)"/>
<rect x="1528.10" y="4226.08" width="100.60" height="74.82" fill="none" stroke="#000" stroke-width="4.8"/>
<rect x="1628.70" y="4233.20" width="100.60" height="67.70" fill="#fff"/>
<path d="M1622.70 4097.02L1735.30 4201.74M1622.70 4130.12L1735.30 4234.84M1622.70 4163.22L1735.30 4267.94M1622.70 4196.32L1735.30 4301.04M1622.70 4229.42L1735.30 4334.14M1622.70 4262.52L1735.30 4367.24M1622.70 4295.62L1735.30 4400.34" stroke="#000" stroke-width="5.0" fill="none" clip-path="url(#c22)"/>
<rect x="1628.70" y="4233.20" width="100.60" height="67.70" fill="none" stroke="#000" stroke-width="4.8"/>
<line x1="396.20" y1="4011.70" x2="396.20" y2="4039.10" stroke="#000" stroke-width="4.9" />
<line x1="382.70" y1="4011.70" x2="409.70" y2="4011.70" stroke="#000" stroke-width="4.9" />
<line x1="382.70" y1="4039.10" x2="409.70" y2="4039.10" stroke="#000" stroke-width="4.9" />
<line x1="622.60" y1="3561.70" x2="622.60" y2="3576.20" stroke="#000" stroke-width="4.9" />
<line x1="609.10" y1="3561.70" x2="636.10" y2="3561.70" stroke="#000" stroke-width="4.9" />
<line x1="609.10" y1="3576.20" x2="636.10" y2="3576.20" stroke="#000" stroke-width="4.9" />
<line x1="723.20" y1="3873.00" x2="723.20" y2="3978.10" stroke="#000" stroke-width="4.9" />
<line x1="709.70" y1="3873.00" x2="736.70" y2="3873.00" stroke="#000" stroke-width="4.9" />
<line x1="709.70" y1="3978.10" x2="736.70" y2="3978.10" stroke="#000" stroke-width="4.9" />
<line x1="823.80" y1="3944.60" x2="823.80" y2="4050.80" stroke="#000" stroke-width="4.9" />
<line x1="810.30" y1="3944.60" x2="837.30" y2="3944.60" stroke="#000" stroke-width="4.9" />
<line x1="810.30" y1="4050.80" x2="837.30" y2="4050.80" stroke="#000" stroke-width="4.9" />
<line x1="1050.20" y1="3468.90" x2="1050.20" y2="3524.80" stroke="#000" stroke-width="4.9" />
<line x1="1036.70" y1="3468.90" x2="1063.70" y2="3468.90" stroke="#000" stroke-width="4.9" />
<line x1="1036.70" y1="3524.80" x2="1063.70" y2="3524.80" stroke="#000" stroke-width="4.9" />
<line x1="1150.80" y1="3914.60" x2="1150.80" y2="4247.30" stroke="#000" stroke-width="4.9" />
<line x1="1137.30" y1="3914.60" x2="1164.30" y2="3914.60" stroke="#000" stroke-width="4.9" />
<line x1="1137.30" y1="4247.30" x2="1164.30" y2="4247.30" stroke="#000" stroke-width="4.9" />
<line x1="1251.40" y1="3920.20" x2="1251.40" y2="4211.00" stroke="#000" stroke-width="4.9" />
<line x1="1237.90" y1="3920.20" x2="1264.90" y2="3920.20" stroke="#000" stroke-width="4.9" />
<line x1="1237.90" y1="4211.00" x2="1264.90" y2="4211.00" stroke="#000" stroke-width="4.9" />
<line x1="1477.80" y1="3448.20" x2="1477.80" y2="3508.60" stroke="#000" stroke-width="4.9" />
<line x1="1464.30" y1="3448.20" x2="1491.30" y2="3448.20" stroke="#000" stroke-width="4.9" />
<line x1="1464.30" y1="3508.60" x2="1491.30" y2="3508.60" stroke="#000" stroke-width="4.9" />
<line x1="1578.40" y1="4187.00" x2="1578.40" y2="4271.60" stroke="#000" stroke-width="4.9" />
<line x1="1564.90" y1="4187.00" x2="1591.90" y2="4187.00" stroke="#000" stroke-width="4.9" />
<line x1="1564.90" y1="4271.60" x2="1591.90" y2="4271.60" stroke="#000" stroke-width="4.9" />
<line x1="1679.00" y1="4200.80" x2="1679.00" y2="4278.30" stroke="#000" stroke-width="4.9" />
<line x1="1665.50" y1="4200.80" x2="1692.50" y2="4200.80" stroke="#000" stroke-width="4.9" />
<line x1="1665.50" y1="4278.30" x2="1692.50" y2="4278.30" stroke="#000" stroke-width="4.9" />
<rect x="220.50" y="3142.90" width="1634.90" height="1158.00" fill="none" stroke="#000" stroke-width="4.7"/>
<line x1="192.50" y1="4300.90" x2="220.50" y2="4300.90" stroke="#000" stroke-width="4.7" />
<text transform="translate(179.00,4316.90) scale(1.04,1)" font-size="51" text-anchor="end" >0</text>
<line x1="204.50" y1="4256.36" x2="220.50" y2="4256.36" stroke="#000" stroke-width="4.7" />
<line x1="192.50" y1="4211.82" x2="220.50" y2="4211.82" stroke="#000" stroke-width="4.7" />
<text transform="translate(179.00,4227.82) scale(1.04,1)" font-size="51" text-anchor="end" >5</text>
<line x1="204.50" y1="4167.28" x2="220.50" y2="4167.28" stroke="#000" stroke-width="4.7" />
<line x1="192.50" y1="4122.75" x2="220.50" y2="4122.75" stroke="#000" stroke-width="4.7" />
<text transform="translate(179.00,4138.75) scale(1.04,1)" font-size="51" text-anchor="end" >10</text>
<line x1="204.50" y1="4078.21" x2="220.50" y2="4078.21" stroke="#000" stroke-width="4.7" />
<line x1="192.50" y1="4033.67" x2="220.50" y2="4033.67" stroke="#000" stroke-width="4.7" />
<text transform="translate(179.00,4049.67) scale(1.04,1)" font-size="51" text-anchor="end" >15</text>
<line x1="204.50" y1="3989.13" x2="220.50" y2="3989.13" stroke="#000" stroke-width="4.7" />
<line x1="192.50" y1="3944.59" x2="220.50" y2="3944.59" stroke="#000" stroke-width="4.7" />
<text transform="translate(179.00,3960.59) scale(1.04,1)" font-size="51" text-anchor="end" >20</text>
<line x1="204.50" y1="3900.05" x2="220.50" y2="3900.05" stroke="#000" stroke-width="4.7" />
<line x1="192.50" y1="3855.52" x2="220.50" y2="3855.52" stroke="#000" stroke-width="4.7" />
<text transform="translate(179.00,3871.52) scale(1.04,1)" font-size="51" text-anchor="end" >25</text>
<line x1="204.50" y1="3810.98" x2="220.50" y2="3810.98" stroke="#000" stroke-width="4.7" />
<line x1="192.50" y1="3766.44" x2="220.50" y2="3766.44" stroke="#000" stroke-width="4.7" />
<text transform="translate(179.00,3782.44) scale(1.04,1)" font-size="51" text-anchor="end" >30</text>
<line x1="204.50" y1="3721.90" x2="220.50" y2="3721.90" stroke="#000" stroke-width="4.7" />
<line x1="192.50" y1="3677.36" x2="220.50" y2="3677.36" stroke="#000" stroke-width="4.7" />
<text transform="translate(179.00,3693.36) scale(1.04,1)" font-size="51" text-anchor="end" >35</text>
<line x1="204.50" y1="3632.82" x2="220.50" y2="3632.82" stroke="#000" stroke-width="4.7" />
<line x1="192.50" y1="3588.28" x2="220.50" y2="3588.28" stroke="#000" stroke-width="4.7" />
<text transform="translate(179.00,3604.28) scale(1.04,1)" font-size="51" text-anchor="end" >40</text>
<line x1="204.50" y1="3543.75" x2="220.50" y2="3543.75" stroke="#000" stroke-width="4.7" />
<line x1="192.50" y1="3499.21" x2="220.50" y2="3499.21" stroke="#000" stroke-width="4.7" />
<text transform="translate(179.00,3515.21) scale(1.04,1)" font-size="51" text-anchor="end" >45</text>
<line x1="204.50" y1="3454.67" x2="220.50" y2="3454.67" stroke="#000" stroke-width="4.7" />
<line x1="192.50" y1="3410.13" x2="220.50" y2="3410.13" stroke="#000" stroke-width="4.7" />
<text transform="translate(179.00,3426.13) scale(1.04,1)" font-size="51" text-anchor="end" >50</text>
<line x1="204.50" y1="3365.59" x2="220.50" y2="3365.59" stroke="#000" stroke-width="4.7" />
<line x1="192.50" y1="3321.05" x2="220.50" y2="3321.05" stroke="#000" stroke-width="4.7" />
<text transform="translate(179.00,3337.05) scale(1.04,1)" font-size="51" text-anchor="end" >55</text>
<line x1="204.50" y1="3276.52" x2="220.50" y2="3276.52" stroke="#000" stroke-width="4.7" />
<line x1="192.50" y1="3231.98" x2="220.50" y2="3231.98" stroke="#000" stroke-width="4.7" />
<text transform="translate(179.00,3247.98) scale(1.04,1)" font-size="51" text-anchor="end" >60</text>
<line x1="204.50" y1="3187.44" x2="220.50" y2="3187.44" stroke="#000" stroke-width="4.7" />
<line x1="192.50" y1="3142.90" x2="220.50" y2="3142.90" stroke="#000" stroke-width="4.7" />
<text transform="translate(179.00,3158.90) scale(1.04,1)" font-size="51" text-anchor="end" >65</text>
<text transform="translate(395.00,4369.30) scale(1.012,1)" font-size="63" text-anchor="middle" >BM-T4/T6</text>
<text transform="translate(723.80,4369.30) scale(1.045,1)" font-size="63" text-anchor="middle" >1230</text>
<text transform="translate(1153.60,4369.30) scale(1.045,1)" font-size="63" text-anchor="middle" >1450</text>
<text transform="translate(1580.50,4369.30) scale(1.045,1)" font-size="63" text-anchor="middle" >1670</text>
<text transform="translate(1015.70,4462.50) scale(1.039,1)" font-size="65.5" text-anchor="middle" >Rotational speed (rpm)</text>
<text transform="translate(72.80,3722.60) rotate(-90)" font-size="62.1" text-anchor="middle">Total elongation (%)</text>
<text transform="translate(242.20,3225.00) scale(1.07,1)" font-size="70" text-anchor="start" >(d)</text>
<rect x="1355.70" y="3156.50" width="142.00" height="68.00" fill="#c0c0c0"/>
<rect x="1355.70" y="3156.50" width="142.00" height="68.00" fill="none" stroke="#000" stroke-width="5"/>
<text transform="translate(1517.50,3210.00) scale(1.04,1)" font-size="62" text-anchor="start" >FSP+W</text>
<rect x="1355.70" y="3235.00" width="142.00" height="68.00" fill="#fff"/>
<path d="M1349.70 3201.16L1503.70 3053.32M1349.70 3223.46L1503.70 3075.62M1349.70 3245.76L1503.70 3097.92M1349.70 3268.06L1503.70 3120.22M1349.70 3290.36L1503.70 3142.52M1349.70 3312.66L1503.70 3164.82M1349.70 3334.96L1503.70 3187.12M1349.70 3357.26L1503.70 3209.42M1349.70 3379.56L1503.70 3231.72M1349.70 3401.86L1503.70 3254.02M1349.70 3424.16L1503.70 3276.32M1349.70 3446.46L1503.70 3298.62" stroke="#000" stroke-width="5.0" fill="none" clip-path="url(#c23)"/>
<rect x="1355.70" y="3235.00" width="142.00" height="68.00" fill="none" stroke="#000" stroke-width="5"/>
<text transform="translate(1517.50,3287.50) scale(1.04,1)" font-size="62" text-anchor="start" >FSP+NA</text>
<rect x="1355.70" y="3314.00" width="142.00" height="68.00" fill="#fff"/>
<path d="M1349.70 3104.80L1503.70 3258.80M1349.70 3139.00L1503.70 3293.00M1349.70 3173.20L1503.70 3327.20M1349.70 3207.40L1503.70 3361.40M1349.70 3241.60L1503.70 3395.60M1349.70 3275.80L1503.70 3429.80M1349.70 3310.00L1503.70 3464.00M1349.70 3344.20L1503.70 3498.20M1349.70 3378.40L1503.70 3532.40" stroke="#000" stroke-width="5.0" fill="none" clip-path="url(#c24)"/>
<rect x="1355.70" y="3314.00" width="142.00" height="68.00" fill="none" stroke="#000" stroke-width="5"/>
<text transform="translate(1517.50,3367.00) scale(1.04,1)" font-size="62" text-anchor="start" >FSP+T4/T6</text>
<path d="M1334.10 4212.55A138 61 0 0 1 1328.46 4238.05M1308.17 4255.64A138 61 0 0 1 1283.67 4266.97M1257.67 4274.29A138 61 0 0 1 1230.99 4278.62M1204.03 4280.42A138 61 0 0 1 1177.01 4279.86M1150.15 4276.88A138 61 0 0 1 1123.74 4271.19M1098.29 4262.13A138 61 0 0 1 1075.22 4248.19M1059.90 4226.45A138 61 0 0 1 1065.54 4200.95M1085.83 4183.36A138 61 0 0 1 1110.33 4172.03M1136.33 4164.71A138 61 0 0 1 1163.01 4160.38M1189.97 4158.58A138 61 0 0 1 1216.99 4159.14M1243.85 4162.12A138 61 0 0 1 1270.26 4167.81M1295.71 4176.87A138 61 0 0 1 1318.78 4190.81" fill="none" stroke="#000" stroke-width="6.5"/>
<path d="M1640.19 4214.08A128 43.3 0 0 1 1668.69 4216.09M1691.81 4219.57A128 43.3 0 0 1 1719.45 4226.73M1740.71 4236.36A128 43.3 0 0 1 1756.44 4258.50M1742.89 4276.63A128 43.3 0 0 1 1716.99 4288.49M1694.36 4294.33A128 43.3 0 0 1 1666.11 4298.59M1642.79 4300.23A128 43.3 0 0 1 1614.21 4300.23M1590.89 4298.59A128 43.3 0 0 1 1562.64 4294.33M1540.01 4288.49A128 43.3 0 0 1 1514.11 4276.63M1500.56 4258.50A128 43.3 0 0 1 1516.29 4236.36M1537.55 4226.73A128 43.3 0 0 1 1565.19 4219.57M1588.31 4216.09A128 43.3 0 0 1 1616.81 4214.08" fill="none" stroke="#000" stroke-width="6.5"/>
<line x1="1553.00" y1="3907.10" x2="1330.59" y2="4171.95" stroke="#000" stroke-width="7" />
<polygon points="1320.30,4184.20 1325.70,4162.61 1340.63,4175.15" fill="#000"/>
<line x1="1633.30" y1="3912.50" x2="1633.30" y2="4190.40" stroke="#000" stroke-width="7" />
<polygon points="1633.30,4206.00 1623.55,4186.50 1643.05,4186.50" fill="#000"/>
<text transform="translate(1640.00,3877.50) scale(1.07,1)" font-size="68" text-anchor="middle" >brittle</text>
</svg>
</body>
</html>
